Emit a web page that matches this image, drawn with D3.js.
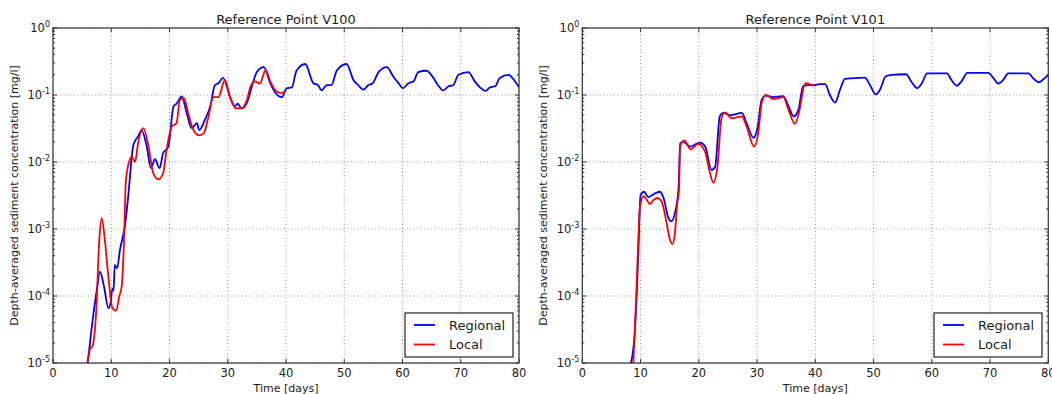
<!DOCTYPE html>
<html><head><meta charset="utf-8">
<script src="https://cdn.jsdelivr.net/npm/d3@7"></script>
<style>
body{margin:0;background:#fff}
svg{display:block}
text{font-family:"DejaVu Sans",sans-serif;fill:#1a1a1a}
</style>
</head><body>
<svg id="chart" width="1052" height="394"></svg>
<script>
// ---------------- data ----------------
const panelTitles = ["Reference Point V100", "Reference Point V101"];
const seriesNames = ["Regional", "Local"];
const xTickValues = [0, 10, 20, 30, 40, 50, 60, 70, 80];
const yTickExponents = [0, -1, -2, -3, -4, -5];
const yLabel = "Depth-averaged sediment concentration [mg/l]";
const xLabel = "Time [days]";

const daysV100Regional = [5.9, 6.6, 7.5, 8.07, 8.75, 9.5, 9.9, 10.2, 10.4, 10.6, 11.0, 11.5, 12.4, 12.9, 13.8, 14.6, 15.2, 16.1, 16.8, 17.5, 18.3, 18.9, 19.8, 20.7, 21.2, 22.1, 22.95, 23.8, 24.7, 25.1, 26.1, 27.0, 27.8, 28.4, 29.2, 30.4, 31.2, 31.7, 32.4, 33.5, 34.1, 35.0, 36.2, 37.3, 38.1, 39.3, 40.1, 41.0, 41.8, 43.3, 44.7, 45.5, 46.1, 47.0, 47.8, 48.7, 50.4, 51.6, 52.4, 53.3, 54.1, 54.9, 55.9, 57.3, 58.4, 59.3, 60.1, 61.0, 61.9, 62.7, 64.1, 65.3, 66.1, 67.0, 67.9, 68.7, 69.6, 71.3, 72.4, 73.3, 74.3, 75.0, 75.9, 76.7, 78.2, 79.3, 80.0];
const concV100Regional = [9e-6, 3.1e-5, 1.2e-4, 2.3e-4, 1.4e-4, 6.6e-5, 8e-5, 1.3e-4, 1.2e-4, 2.9e-4, 2.6e-4, 4.9e-4, 1.2e-3, 3.0e-3, 0.018, 0.024, 0.030, 0.017, 0.0081, 0.011, 0.0081, 0.0135, 0.017, 0.068, 0.074, 0.095, 0.054, 0.032, 0.038, 0.030, 0.043, 0.068, 0.14, 0.15, 0.18, 0.093, 0.068, 0.074, 0.063, 0.085, 0.13, 0.22, 0.26, 0.15, 0.11, 0.093, 0.126, 0.13, 0.23, 0.29, 0.15, 0.14, 0.117, 0.14, 0.14, 0.23, 0.29, 0.166, 0.14, 0.12, 0.14, 0.15, 0.22, 0.26, 0.19, 0.15, 0.126, 0.15, 0.16, 0.22, 0.23, 0.18, 0.14, 0.117, 0.135, 0.14, 0.20, 0.22, 0.16, 0.13, 0.115, 0.13, 0.135, 0.18, 0.20, 0.16, 0.13];

const daysV100Local = [5.9, 6.35, 6.8, 7.4, 7.95, 8.35, 8.9, 9.5, 10.2, 10.8, 11.4, 11.8, 12.2, 12.5, 13.2, 13.5, 14.1, 14.6, 15.5, 16.4, 17.2, 18.1, 18.9, 19.5, 20.4, 21.2, 21.8, 22.5, 23.2, 24.1, 25.1, 25.9, 26.7, 27.5, 28.4, 29.5, 30.4, 31.4, 32.4, 33.3, 34.0, 34.7, 35.5, 36.5, 37.3, 38.1, 39.0, 39.8];
const concV100Local = [1e-5, 1.6e-5, 1.8e-5, 5.6e-5, 6.9e-4, 1.45e-3, 6.9e-4, 1.95e-4, 6.6e-5, 6.0e-5, 1.0e-4, 1.4e-4, 6.9e-4, 5.1e-3, 0.011, 0.012, 0.010, 0.019, 0.032, 0.017, 0.0068, 0.0055, 0.0068, 0.015, 0.034, 0.038, 0.085, 0.089, 0.054, 0.030, 0.025, 0.027, 0.048, 0.093, 0.093, 0.166, 0.093, 0.063, 0.063, 0.085, 0.14, 0.16, 0.148, 0.234, 0.16, 0.12, 0.107, 0.11];

const daysV101Regional = [8.36, 9.05, 9.6, 10.0, 10.6, 11.3, 12.5, 13.3, 13.9, 14.8, 15.3, 15.9, 16.5, 16.8, 17.3, 18.5, 20.2, 21.1, 22.2, 22.8, 23.6, 24.2, 25.4, 27.4, 28.2, 29.4, 30.0, 30.8, 31.5, 32.8, 34.5, 35.4, 36.3, 37.1, 37.9, 38.8, 39.7, 40.8, 41.7, 42.5, 43.4, 44.2, 45.1, 46.5, 48.5, 49.4, 50.4, 51.1, 52.1, 53.1, 55.6, 56.5, 57.5, 58.3, 59.2, 62.6, 63.4, 64.3, 65.1, 66.1, 69.7, 70.6, 71.4, 72.3, 73.1, 76.6, 77.4, 78.4, 79.1, 80.0];
const concV101Regional = [1e-5, 3.2e-5, 3.9e-4, 3.2e-3, 3.6e-3, 3.0e-3, 3.4e-3, 3.6e-3, 3.0e-3, 1.45e-3, 1.3e-3, 1.74e-3, 3.8e-3, 0.019, 0.020, 0.017, 0.0195, 0.017, 0.0076, 0.0085, 0.048, 0.054, 0.050, 0.054, 0.038, 0.023, 0.030, 0.085, 0.098, 0.093, 0.096, 0.068, 0.048, 0.060, 0.135, 0.14, 0.14, 0.145, 0.145, 0.10, 0.077, 0.117, 0.174, 0.178, 0.182, 0.14, 0.102, 0.12, 0.19, 0.20, 0.204, 0.158, 0.126, 0.15, 0.21, 0.21, 0.166, 0.138, 0.16, 0.214, 0.214, 0.178, 0.148, 0.17, 0.21, 0.21, 0.178, 0.155, 0.17, 0.20];

const daysV101Local = [8.77, 9.3, 9.9, 10.5, 11.1, 11.6, 12.2, 12.9, 13.6, 14.5, 15.05, 15.5, 15.9, 16.3, 16.6, 16.8, 17.5, 18.6, 19.9, 21.1, 21.8, 22.5, 23.2, 23.9, 24.5, 25.6, 27.4, 28.2, 29.5, 30.2, 30.8, 31.5, 32.8, 34.5, 35.4, 36.5, 37.3, 38.1, 38.5, 39.4, 40.0];
const concV101Local = [1e-5, 1.23e-4, 2.1e-3, 3.1e-3, 2.7e-3, 2.35e-3, 2.7e-3, 2.9e-3, 2.6e-3, 1.2e-3, 6.9e-4, 6.0e-4, 8.7e-4, 2.4e-3, 3.8e-3, 0.017, 0.021, 0.0155, 0.0186, 0.014, 0.0076, 0.0049, 0.0085, 0.045, 0.055, 0.045, 0.048, 0.034, 0.017, 0.027, 0.076, 0.10, 0.087, 0.093, 0.060, 0.037, 0.060, 0.14, 0.15, 0.14, 0.138];

// ---------------- layout ----------------
const svg = d3.select("#chart");
const plotTop = 28, plotH = 335, plotW = 466;
const colors = ["#0000ff", "#ff0000"];
const panels = [
  {title: panelTitles[0], left: 53, series: [[daysV100Regional, concV100Regional], [daysV100Local, concV100Local]], legendX: 405},
  {title: panelTitles[1], left: 582.3, series: [[daysV101Regional, concV101Regional], [daysV101Local, concV101Local]], legendX: 934}
];

panels.forEach((p, pi) => {
  const x = d3.scaleLinear().domain([0, 80]).range([p.left, p.left + plotW]);
  const y = d3.scaleLog().domain([1e-5, 1]).range([plotTop + plotH, plotTop]);
  const g = svg.append("g");
  const x0 = p.left, x1 = p.left + plotW, y0 = plotTop + plotH, y1 = plotTop;

  // grid
  g.selectAll(".gx").data(xTickValues).enter().append("line")
    .attr("x1", d => x(d)).attr("x2", d => x(d)).attr("y1", y1).attr("y2", y0)
    .attr("stroke", "#777").attr("stroke-width", 0.8).attr("stroke-dasharray", "1,2.5");
  g.selectAll(".gy").data(yTickExponents).enter().append("line")
    .attr("y1", d => y(Math.pow(10, d))).attr("y2", d => y(Math.pow(10, d))).attr("x1", x0).attr("x2", x1)
    .attr("stroke", "#777").attr("stroke-width", 0.8).attr("stroke-dasharray", "1,2.5");

  // clip
  const cid = "clip" + pi;
  svg.append("clipPath").attr("id", cid).append("rect")
    .attr("x", x0).attr("y", y1).attr("width", plotW).attr("height", plotH);

  const line = d3.line().x(d => x(d[0])).y(d => y(d[1])).curve(d3.curveMonotoneX);
  p.series.forEach((s, si) => {
    const pts = s[0].map((d, i) => [d, s[1][i]]);
    g.append("path").attr("d", line(pts)).attr("clip-path", `url(#${cid})`)
      .attr("fill", "none").attr("stroke", colors[si]).attr("stroke-width", 1.8)
      .attr("stroke-linejoin", "round");
  });

  // frame
  g.append("rect").attr("x", x0).attr("y", y1).attr("width", plotW).attr("height", plotH)
    .attr("fill", "none").attr("stroke", "#333").attr("stroke-width", 1.2);

  // x ticks (inside, top & bottom)
  xTickValues.forEach(v => {
    g.append("line").attr("x1", x(v)).attr("x2", x(v)).attr("y1", y0).attr("y2", y0 - 4).attr("stroke", "#333");
    g.append("line").attr("x1", x(v)).attr("x2", x(v)).attr("y1", y1).attr("y2", y1 + 4).attr("stroke", "#333");
    g.append("text").attr("x", x(v)).attr("y", 377).attr("text-anchor", "middle")
      .attr("font-size", 11.5).text(v);
  });
  // y ticks major + minor
  yTickExponents.forEach(e => {
    const yy = y(Math.pow(10, e));
    g.append("line").attr("x1", x0).attr("x2", x0 + 4).attr("y1", yy).attr("y2", yy).attr("stroke", "#333");
    g.append("line").attr("x1", x1).attr("x2", x1 - 4).attr("y1", yy).attr("y2", yy).attr("stroke", "#333");
    const t = g.append("text").attr("x", x0 - 3).attr("y", yy + 4).attr("text-anchor", "end").attr("font-size", 11.5);
    t.append("tspan").text("10");
    t.append("tspan").attr("dy", -5).attr("font-size", 8).text(e === 0 ? "0" : "-" + Math.abs(e));
    if (e > -5) {
      for (let m = 2; m <= 9; m++) {
        const ym = y(m * Math.pow(10, e - 1));
        g.append("line").attr("x1", x0).attr("x2", x0 + 2).attr("y1", ym).attr("y2", ym).attr("stroke", "#333");
        g.append("line").attr("x1", x1).attr("x2", x1 - 2).attr("y1", ym).attr("y2", ym).attr("stroke", "#333");
      }
    }
  });

  // title & labels
  g.append("text").attr("x", (x0 + x1) / 2).attr("y", 24).attr("text-anchor", "middle")
    .attr("font-size", 13).text(p.title);
  g.append("text").attr("x", (x0 + x1) / 2).attr("y", 392).attr("text-anchor", "middle")
    .attr("font-size", 11).text(xLabel);
  g.append("text").attr("transform", `translate(${x0 - 35},${(y0 + y1) / 2}) rotate(-90)`)
    .attr("text-anchor", "middle").attr("font-size", 11).text(yLabel);

  // legend
  const lg = g.append("g").attr("transform", `translate(${p.legendX},313)`);
  lg.append("rect").attr("width", 108).attr("height", 44).attr("fill", "#fff").attr("stroke", "#222").attr("stroke-width", 1.2);
  seriesNames.forEach((n, i) => {
    lg.append("line").attr("x1", 9).attr("x2", 30).attr("y1", 12 + i * 19.5).attr("y2", 12 + i * 19.5)
      .attr("stroke", colors[i]).attr("stroke-width", 1.8);
    lg.append("text").attr("x", 44).attr("y", 16.5 + i * 19.5).attr("font-size", 13).text(n);
  });
});
</script>
</body></html>
